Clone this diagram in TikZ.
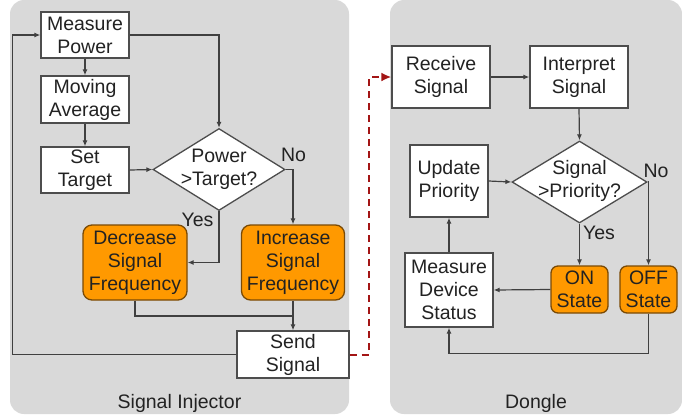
\documentclass[tikz,border=0pt]{standalone}
\usepackage{fontspec}
\setmainfont{Liberation Sans}
\usetikzlibrary{arrows.meta,shapes.geometric,calc}
\definecolor{panelgray}{HTML}{D9D9D9}
\definecolor{boxline}{HTML}{4D4D4D}
\definecolor{flowline}{HTML}{404040}
\definecolor{actfill}{HTML}{FF9900}
\definecolor{actline}{HTML}{7A4A05}
\definecolor{linkred}{HTML}{A31515}
\definecolor{txt}{HTML}{222222}
\begin{document}
\begin{tikzpicture}[x=1pt,y=-1pt,
  every node/.style={font=\fontsize{19.5}{23}\selectfont, text=txt, inner sep=0pt, align=center},
  panel/.style={fill=panelgray, draw=none, rounded corners=14pt},
  stepbox/.style={draw=boxline, line width=1.3pt, fill=white, rectangle},
  actbox/.style={draw=actline, line width=1.3pt, fill=actfill, rectangle, rounded corners=#1},
  actbox/.default=9pt,
  decision/.style={draw=boxline, line width=1.3pt, fill=white, diamond, inner sep=0pt},
  flow/.style={draw=flowline, line width=1.2pt, -{Latex[length=6pt,width=5pt]}},
  plainflow/.style={draw=flowline, line width=1.2pt},
  link/.style={draw=linkred, line width=2pt, dash pattern=on 7pt off 5pt, -{Latex[length=10pt,width=9pt]}},
  tag/.style={anchor=base}
]
\useasboundingbox (0,0) rectangle (682,416);

% panels
\fill[panel] (10,0) rectangle (349,414);
\fill[panel] (390,0) rectangle (682,414);

% ---- Signal Injector ----
\node[stepbox, minimum width=88pt, minimum height=46pt] (mp) at (85,35) {Measure\\Power};
\node[stepbox, minimum width=88pt, minimum height=47pt] (ma) at (85,99.5) {Moving\\Average};
\node[stepbox, minimum width=88pt, minimum height=46pt] (st) at (85,170) {Set\\Target};
\node[decision, minimum width=132pt, minimum height=82pt] (d1) at (219,169.5) {};
\node (d1t) at (219,169) {Power\\>Target?};
\node[actbox, minimum width=104pt, minimum height=75pt] (dec) at (135,262.5) {Decrease\\Signal\\Frequency};
\node[actbox, minimum width=103pt, minimum height=75pt] (inc) at (293,262.5) {Increase\\Signal\\Frequency};
\node[stepbox, minimum width=112pt, minimum height=47pt] (send) at (293,354.5) {Send\\Signal};
\coordinate (join) at (293,316);

\node[tag] (no1) at (293.5,161) {No};
\node[tag] (yes1) at (197.5,226) {Yes};
\node[tag] (title1) at (179.5,408) {Signal Injector};

\draw[flow] (mp.east) -| (d1.north);
\draw[flow] (mp.south) -- (ma.north);
\draw[flow] (ma.south) -- (st.north);
\draw[flow] (st.east) -- (d1.west);
\draw[flow] (d1.south) |- (dec.east);
\draw[flow] (d1.east) -| (inc.north);
\draw[plainflow] (dec.south) |- (join);
\draw[flow] (inc.south) -- (send.north);
\draw[flow] (send.west) -| ([xshift=-28pt]mp.west) -- (mp.west);

% ---- Dongle ----
\node[stepbox, minimum width=98pt, minimum height=62pt] (recv) at (441,77) {Receive\\Signal};
\node[stepbox, minimum width=98pt, minimum height=62pt] (interp) at (579,77) {Interpret\\Signal};
\node[decision, minimum width=135pt, minimum height=82pt] (d2) at (579.5,182) {};
\node (d2t) at (579.5,181) {Signal\\>Priority?};
\node[stepbox, minimum width=78pt, minimum height=72pt] (up) at (449,181) {Update\\Priority};
\node[stepbox, minimum width=88pt, minimum height=74pt] (mds) at (449,290) {Measure\\Device\\Status};
\node[actbox=7pt, minimum width=57pt, minimum height=47pt] (on) at (579.5,289.5) {ON\\State};
\node[actbox=7pt, minimum width=57pt, minimum height=47pt] (off) at (648.5,289.5) {OFF\\State};

\node[tag] (no2) at (656,177) {No};
\node[tag] (yes2) at (599,239) {Yes};
\node[tag] (title2) at (536,408) {Dongle};

\draw[flow] (recv.east) -- (interp.west);
\draw[flow] (interp.south) -- (d2.north);
\draw[flow] (up.east) -- (d2.west);
\draw[flow] (mds.north) -- (up.south);
\draw[flow] (d2.south) -- (on.north);
\draw[flow] (d2.east) -| (off.north);
\draw[flow] (on.west) -- (mds.east);
\draw[flow] (off.south) |- ($(mds.south)+(0,26)$) -- (mds.south);

% ---- link between the two devices ----
\draw[link] (send.east) -| ([xshift=-22pt]recv.west) -- (recv.west);
\end{tikzpicture}
\end{document}
